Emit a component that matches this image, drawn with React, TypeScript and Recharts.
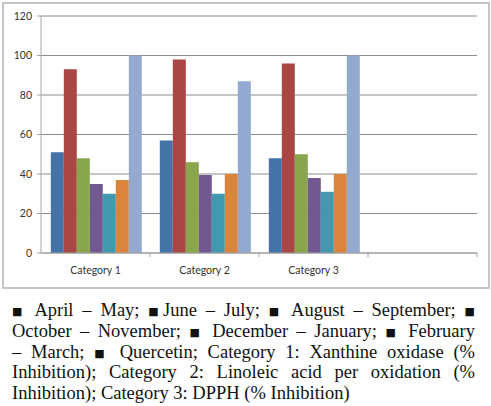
import * as React from "react";
import { BarChart, Bar, XAxis, YAxis, CartesianGrid } from "recharts";

const categories = ["Category 1", "Category 2", "Category 3", ""];
const aprilMay = [51, 57, 48, null];
const juneJuly = [93, 98, 96, null];
const augSep = [48, 46, 50, null];
const octNov = [35, 39.5, 38, null];
const decJan = [30, 30, 31, null];
const febMar = [37, 40, 40, null];
const quercetin = [100, 87, 100, null];
const yTicks = [0, 20, 40, 60, 80, 100, 120];

const series = [
  { key: "aprilMay", values: aprilMay, color: "#4572A7" },
  { key: "juneJuly", values: juneJuly, color: "#AA4643" },
  { key: "augSep", values: augSep, color: "#89A54E" },
  { key: "octNov", values: octNov, color: "#71588F" },
  { key: "decJan", values: decJan, color: "#4198AF" },
  { key: "febMar", values: febMar, color: "#DB843D" },
  { key: "quercetin", values: quercetin, color: "#93A9CF" },
];

const data = categories.map((name, i) => {
  const row: { [k: string]: string | number | null } = { name };
  series.forEach((s) => (row[s.key] = s.values[i]));
  return row;
});

// caption lines, broken where the printed text breaks
const caption = [
  ["■", " April – May; ", "■", "June – July; ", "■", " August – September; ", "■"],
  ["October – November; ", "■", " December – January; ", "■", " February"],
  ["– March; ", "■", " Quercetin; Category 1: Xanthine oxidase (%"],
  ["Inhibition); Category 2: Linoleic acid per oxidation (%"],
  ["Inhibition); Category 3: DPPH (% Inhibition)"],
];

const CHART_W = 484;
const CHART_H = 283;
const MARGIN = { top: 12, right: 11, bottom: 4, left: 0 };
const Y_W = 37;
const PLOT_W = CHART_W - MARGIN.left - MARGIN.right - Y_W;
const axisFont = "Lato, 'Open Sans', sans-serif";

function CategoryTick(props: any) {
  const { x, y, payload } = props;
  const band = PLOT_W / categories.length;
  return (
    <g>
      <line x1={x + band / 2} y1={y} x2={x + band / 2} y2={y + 4} stroke="#a6a6a6" />
      <text
        x={x}
        y={y + 21}
        textAnchor="middle"
        fontSize={10.5}
        fontFamily={axisFont}
        fill="#333"
      >
        {payload.value}
      </text>
    </g>
  );
}

export default function App() {
  return (
    <div style={{ position: "absolute", left: 0, top: 0, width: 491, height: 406, background: "#fff" }}>
      <div
        style={{
          position: "absolute",
          left: 2,
          top: 2,
          width: 488,
          height: 287,
          border: "2px solid #c6c6c6",
          boxSizing: "border-box",
        }}
      >
        <BarChart
          width={CHART_W}
          height={CHART_H}
          data={data}
          margin={MARGIN}
          barCategoryGap="9%"
          barGap={0}
        >
          <CartesianGrid horizontal vertical={false} stroke="#8c8c8c" />
          <XAxis
            dataKey="name"
            interval={0}
            tickSize={0}
            tickMargin={0}
            tickLine={false}
            stroke="#a6a6a6"
            height={30}
            tick={<CategoryTick />}
          />
          <YAxis
            domain={[0, 120]}
            ticks={yTicks}
            width={Y_W}
            tickSize={4}
            tickMargin={5}
            stroke="#a6a6a6"
            tick={{ fontSize: 10.5, fontFamily: axisFont, fill: "#333" }}
          />
          {series.map((s) => (
            <Bar key={s.key} dataKey={s.key} fill={s.color} isAnimationActive={false} />
          ))}
        </BarChart>
      </div>
      <div
        style={{
          position: "absolute",
          left: 12,
          top: 300,
          width: 463,
          fontFamily: "'Liberation Serif', serif",
          fontSize: 18.5,
          lineHeight: "20.8px",
          color: "#111",
        }}
      >
        {caption.map((line, i) => (
          <div
            key={i}
            style={{
              height: 20.8,
              overflow: "visible",
              textAlign: "justify",
              textAlignLast: i < caption.length - 1 ? "justify" : "left",
              whiteSpace: "nowrap",
            }}
          >
            {line.map((part, j) =>
              part === "■" ? (
                <span
                  key={j}
                  style={{
                    fontFamily: "'DejaVu Sans', sans-serif",
                    fontSize: 11,
                    lineHeight: "0",
                    verticalAlign: "1px",
                  }}
                >
                  ■
                </span>
              ) : (
                <span key={j}>{part}</span>
              )
            )}
          </div>
        ))}
      </div>
    </div>
  );
}
